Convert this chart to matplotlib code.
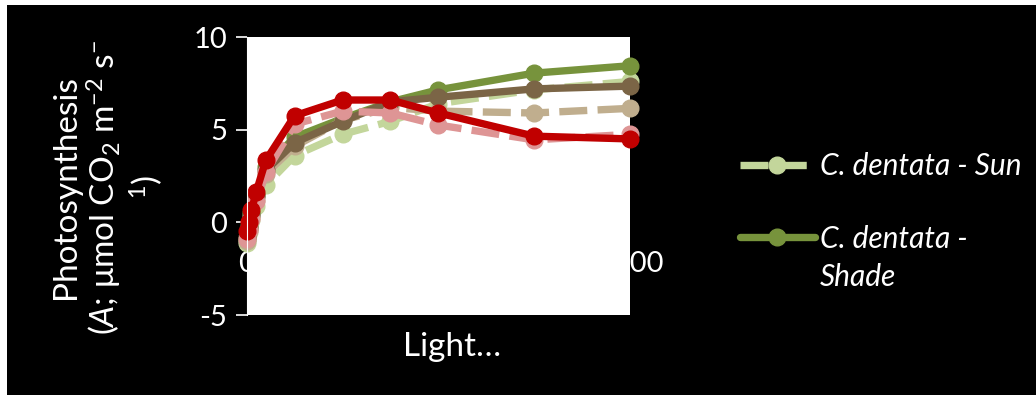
import matplotlib
matplotlib.use("Agg")
import matplotlib.pyplot as plt
from matplotlib.patches import Rectangle

plt.rcParams['font.family'] = ['Lato', 'DejaVu Sans']
plt.rcParams['mathtext.fontset'] = 'custom'
plt.rcParams['mathtext.rm'] = 'Lato'
plt.rcParams['mathtext.it'] = 'Lato:italic'

# ---- data ----
light = [0, 10, 25, 50, 100, 250, 500, 750, 1000, 1500, 2000]
dentata_sun = [-1.1, -0.5, 0.1, 0.9, 2.0, 3.6, 4.75, 5.45, 6.4, 7.15, 7.6]
dentata_shade = [-0.9, -0.2, 0.5, 1.5, 3.0, 4.6, 5.6, 6.5, 7.15, 8.05, 8.45]
tan_sun = [-1.0, -0.4, 0.3, 1.2, 2.6, 4.1, 5.5, 6.2, 6.0, 5.9, 6.15]
brown_shade = [-0.8, -0.3, 0.4, 1.4, 2.8, 4.3, 5.45, 6.5, 6.75, 7.2, 7.35]
pink_sun = [-0.9, -0.4, 0.2, 1.15, 2.7, 5.3, 6.0, 5.9, 5.25, 4.45, 4.75]
red_shade = [-0.45, 0.0, 0.65, 1.65, 3.35, 5.75, 6.6, 6.6, 5.9, 4.65, 4.5]

series_labels = ["C. dentata - Sun", "C. dentata - Shade"]
xticks = [0, 500, 1000, 1500, 2000]
yticks = [-5, 0, 5, 10]

W, H = 1036, 396
fig = plt.figure(figsize=(W / 100, H / 100), dpi=100)
fig.patch.set_facecolor('white')
fig.add_artist(Rectangle((7 / W, 1 / H), 1 - 7 / W, (H - 6) / H,
                         transform=fig.transFigure, facecolor='black',
                         edgecolor='none', zorder=-10))

pos = [246.7 / W, (H - 315) / H, (630 - 246.7) / W, (315 - 37) / H]

# back axes: only x tick labels (partly hidden behind the white plot area)
axb = fig.add_axes(pos, zorder=0)
axb.patch.set_visible(False)
axb.set_xlim(0, 2000)
axb.set_ylim(-5, 10)
for s in axb.spines.values():
    s.set_visible(False)
axb.set_yticks([])
axb.spines['bottom'].set_position(('data', 0))
axb.set_xticks(xticks)
axb.set_xticklabels([str(v) for v in xticks])
axb.tick_params(axis='x', length=0, pad=21, labelsize=21, labelcolor='white')

ax = fig.add_axes(pos, zorder=1)
ax.set_facecolor('white')
ax.set_xlim(0, 2000)
ax.set_ylim(-5, 10)
ax.set_xticks([])
ax.set_yticks(yticks)
ax.set_yticklabels([str(v) for v in yticks])
ax.tick_params(axis='y', direction='out', length=8, width=1.2, color='white',
               labelcolor='white', labelsize=21, pad=6)
for k in ['top', 'right', 'bottom']:
    ax.spines[k].set_visible(False)
ax.spines['left'].set_color('white')

lw = 5.3
ms = 12
dash = (3.8, 1.4)
specs = [
    (dentata_sun, '#C3D69B', True, series_labels[0]),
    (dentata_shade, '#77933C', False, series_labels[1]),
    (tan_sun, '#C0AE8E', True, '_tan'),
    (brown_shade, '#7B6546', False, '_brown'),
    (pink_sun, '#DE9595', True, '_pink'),
    (red_shade, '#C00000', False, '_red'),
]
handles = []
for vals, col, dashed, lab in specs:
    kw = dict(color=col, lw=lw, marker='o', ms=ms, mfc=col, mec=col,
              label=lab, clip_on=False, solid_capstyle='round',
              dash_capstyle='butt', solid_joinstyle='round')
    if dashed:
        kw['dashes'] = dash
    ln, = ax.plot(light, vals, **kw)
    handles.append(ln)

ax.set_ylabel("Photosynthesis\n($\\it{A}$; μmol CO$_2$ m$^{-2}$ s$^{-}$\n$^{1}$)",
              color='white', fontsize=24, linespacing=1.12)
ax.yaxis.set_label_coords((165 - 246.7) / 383.3, 0.46)
ax.set_xlabel("Light…", color='white', fontsize=24)
ax.xaxis.set_label_coords((452 - 246.7) / 383.3, -0.06)

leg_fs = 21.5
leg = fig.legend(handles[:2], ["C. dentata - Sun", "C. dentata -"],
                 loc='upper left', bbox_to_anchor=(740 / W, 1 - 152 / H),
                 frameon=False, handlelength=2.5, handletextpad=0.17,
                 borderpad=0, borderaxespad=0,
                 labelspacing=1.5, prop={'style': 'italic', 'size': leg_fs})
for t in leg.get_texts():
    t.set_color('white')

# second line of the wrapped legend label
fig.canvas.draw()
bb = leg.get_texts()[1].get_window_extent()
fig.text(bb.x0 / W, (bb.y0 - 38) / H, "Shade", color='white', style='italic',
         fontsize=leg_fs, ha='left', va='bottom')

fig.savefig('out.png', dpi=100, facecolor=fig.get_facecolor())
